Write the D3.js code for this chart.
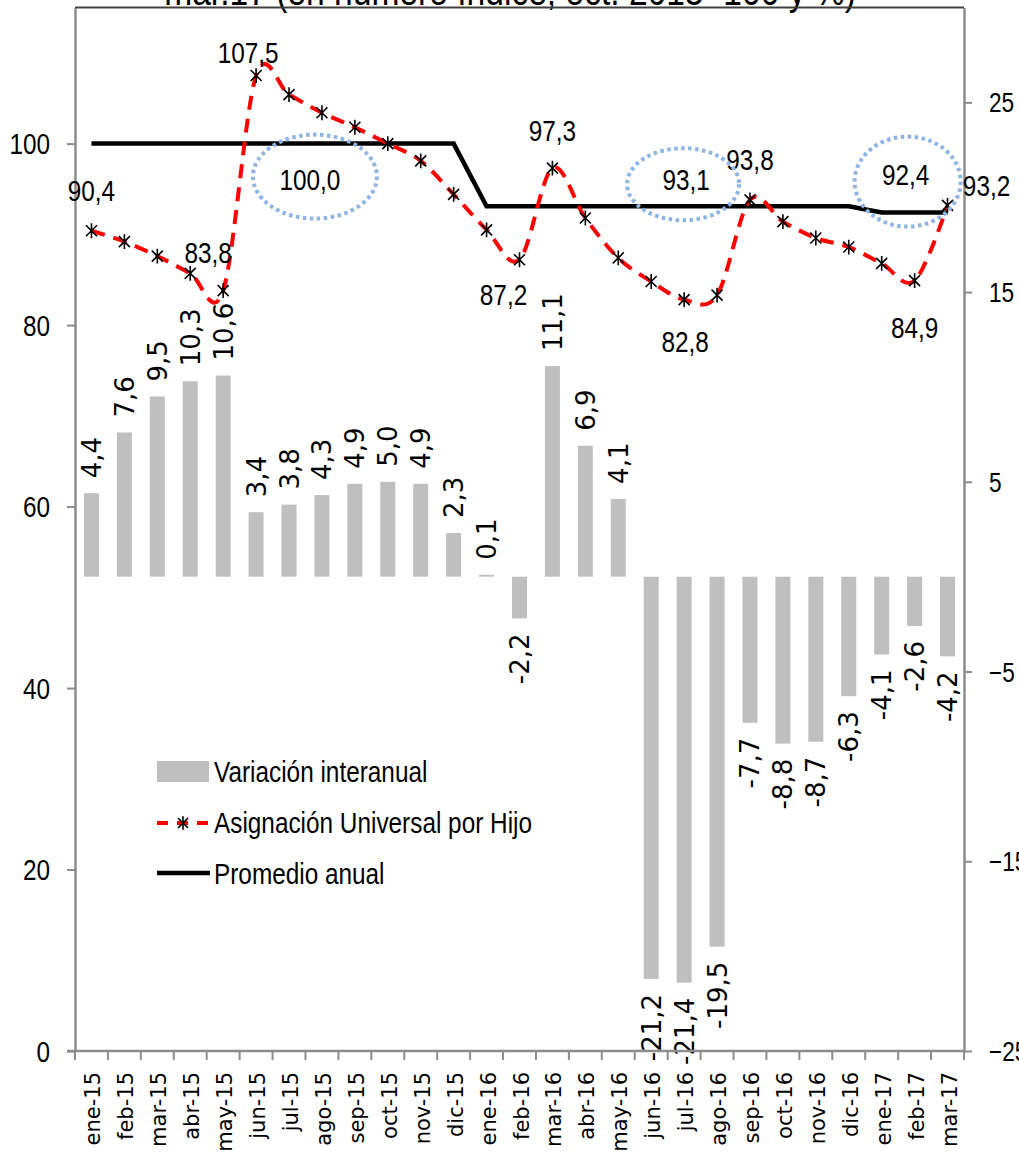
<!DOCTYPE html>
<html>
<head>
<meta charset="utf-8">
<script src="https://cdn.jsdelivr.net/npm/d3@7"></script>
<style>
  body { margin: 0; background: #fff; }
  svg { display: block; }
</style>
</head>
<body>
<svg id="chart"></svg>
<script>
// months on the x axis
var months = ["ene-15","feb-15","mar-15","abr-15","may-15","jun-15","jul-15","ago-15","sep-15","oct-15","nov-15","dic-15",
              "ene-16","feb-16","mar-16","abr-16","may-16","jun-16","jul-16","ago-16","sep-16","oct-16","nov-16","dic-16",
              "ene-17","feb-17","mar-17"];

// year on year change (%), right axis
var variacion = [4.4, 7.6, 9.5, 10.3, 10.6, 3.4, 3.8, 4.3, 4.9, 5.0, 4.9, 2.3,
                 0.1, -2.2, 11.1, 6.9, 4.1, -21.2, -21.4, -19.5, -7.7, -8.8, -8.7, -6.3,
                 -4.1, -2.6, -4.2];

// AUH index, left axis
var auh = [90.4, 89.2, 87.6, 85.7, 83.8, 107.5, 105.4, 103.4, 101.8, 100.0, 98.1, 94.4,
           90.5, 87.2, 97.3, 91.8, 87.4, 84.8, 82.8, 83.3, 93.8, 91.4, 89.6, 88.6,
           86.8, 84.9, 93.2];

// yearly average, left axis
var promedio = [100, 100, 100, 100, 100, 100, 100, 100, 100, 100, 100, 100,
                93.1, 93.1, 93.1, 93.1, 93.1, 93.1, 93.1, 93.1, 93.1, 93.1, 93.1, 93.1,
                92.4, 92.4, 92.4];

var leftTicks = [0, 20, 40, 60, 80, 100];
var rightTicks = [-25, -15, -5, 5, 15, 25];

// which AUH points get a value label
var auhLabelled = ["ene-15", "may-15", "jun-15", "feb-16", "mar-16", "jul-16", "sep-16", "feb-17", "mar-17"];
// circled yearly averages
var promedioNotes = ["ago-15", "jul-16", "feb-17"];

var legendItems = ["Variación interanual", "Asignación Universal por Hijo", "Promedio anual"];
var title = "mar.17 (en número índice; oct. 2015=100 y %)";

var width = 1019, height = 1160;
var plotLeft = 75, plotRight = 964, plotTop = 7.5, plotBottom = 1051;

var sans = "'Liberation Sans', Arial, sans-serif";
var wide = "'DejaVu Sans', Verdana, sans-serif";
var squeeze = 0.84;   // narrow the Liberation glyphs to look like the original font

var svg = d3.select("#chart").attr("width", width).attr("height", height);

var x = d3.scaleBand().domain(months).range([plotLeft, plotRight]);
var xc = function(m) { return x(m) + x.step() / 2; };
var yL = d3.scaleLinear().domain([0, 115]).range([plotBottom, plotTop]);
var yR = d3.scaleLinear().domain([-25, 30]).range([plotBottom, plotTop]);

var fmt = function(v) { return v.toFixed(1).replace(".", ","); };
var barW = 15;

// place a narrowed text at px, py
function narrowAt(sel, px, py) {
    return sel.attr("transform", function(d, i) {
        var a = typeof px === "function" ? px(d, i) : px;
        var b = typeof py === "function" ? py(d, i) : py;
        return "translate(" + a + "," + b + ") scale(" + squeeze + ",1)";
    })
    .attr("font-family", sans);
}

// title (cut at the top of the picture)
narrowAt(svg.append("text"), 510, 5)
    .attr("text-anchor", "middle")
    .attr("font-size", 40)
    .text(title);

// top border of plot area
svg.append("line")
    .attr("x1", plotLeft).attr("x2", plotRight)
    .attr("y1", plotTop).attr("y2", plotTop)
    .attr("stroke", "#404040").attr("stroke-width", 2);

// bars
svg.append("g")
    .selectAll("rect")
    .data(variacion)
    .join("rect")
    .attr("x", (d, i) => xc(months[i]) - barW / 2)
    .attr("width", barW)
    .attr("y", d => d >= 0 ? yR(d) : yR(0))
    .attr("height", d => Math.abs(yR(d) - yR(0)))
    .attr("fill", "#bfbfbf");

// bar labels, rotated
svg.append("g")
    .selectAll("text")
    .data(variacion)
    .join("text")
    .attr("transform", function(d, i) {
        var yy = d >= 0 ? yR(d) - 15 : yR(d) + 15;
        return "translate(" + (xc(months[i]) + 9.5) + "," + yy + ") rotate(-90)";
    })
    .attr("text-anchor", d => d >= 0 ? "start" : "end")
    .attr("font-family", wide).attr("font-size", 26)
    .text(d => fmt(d));

// axes
var axisColor = "#8c8c8c";

var gL = svg.append("g")
    .attr("transform", "translate(" + plotLeft + ",0)")
    .call(d3.axisLeft(yL).tickValues(leftTicks).tickSize(8).tickSizeOuter(0).tickFormat(d3.format("d")));
var gR = svg.append("g")
    .attr("transform", "translate(" + plotRight + ",0)")
    .call(d3.axisRight(yR).tickValues(rightTicks).tickSize(8).tickSizeOuter(0).tickFormat(d3.format("d")));

[gL, gR].forEach(function(g) {
    g.select(".domain").attr("stroke", axisColor).attr("stroke-width", 2.5);
    g.selectAll(".tick line").attr("stroke", axisColor).attr("stroke-width", 2);
    g.selectAll(".tick text")
        .attr("fill", "#000")
        .attr("font-family", sans)
        .attr("dy", "0.35em")
        .attr("transform", "scale(" + squeeze + ",1)");
});
gL.selectAll(".tick text").attr("x", -25 / squeeze).attr("font-size", 29);
gR.selectAll(".tick text").attr("x", 25 / squeeze).attr("font-size", 27);

// x axis line and ticks between months
svg.append("line")
    .attr("x1", plotLeft - 8).attr("x2", plotRight)
    .attr("y1", plotBottom).attr("y2", plotBottom)
    .attr("stroke", axisColor).attr("stroke-width", 2.5);

svg.append("g")
    .selectAll("line")
    .data(d3.range(months.length + 1))
    .join("line")
    .attr("x1", i => plotLeft + i * x.step())
    .attr("x2", i => plotLeft + i * x.step())
    .attr("y1", plotBottom).attr("y2", plotBottom + 9)
    .attr("stroke", axisColor).attr("stroke-width", 2);

svg.append("g")
    .selectAll("text")
    .data(months)
    .join("text")
    .attr("transform", d => "translate(" + (xc(d) + 9) + "," + (plotBottom + 21) + ") rotate(-90)")
    .attr("text-anchor", "end")
    .attr("font-family", wide).attr("font-size", 21)
    .text(d => d);

// yearly average
var lineAvg = d3.line()
    .x((d, i) => xc(months[i]))
    .y(d => yL(d));

svg.append("path")
    .datum(promedio)
    .attr("d", lineAvg)
    .attr("fill", "none")
    .attr("stroke", "#000")
    .attr("stroke-width", 4.5);

// AUH smoothed dashed line
var lineAuh = d3.line()
    .x((d, i) => xc(months[i]))
    .y(d => yL(d))
    .curve(d3.curveCardinal.tension(0));

svg.append("path")
    .datum(auh)
    .attr("d", lineAuh)
    .attr("fill", "none")
    .attr("stroke", "#ff0000")
    .attr("stroke-width", 4)
    .attr("stroke-dasharray", "14,9");

// star markers
function star(g, s) {
    g.append("path")
        .attr("d", "M" + (-s) + "," + (-s) + "L" + s + "," + s +
                   "M" + (-s) + "," + s + "L" + s + "," + (-s) +
                   "M0," + (-s * 1.35) + "L0," + (s * 1.35))
        .attr("stroke", "#000")
        .attr("stroke-width", 1.6)
        .attr("fill", "none");
}

svg.append("g")
    .selectAll("g")
    .data(auh)
    .join("g")
    .attr("transform", (d, i) => "translate(" + xc(months[i]) + "," + yL(d) + ")")
    .each(function() { star(d3.select(this), 5.5); });

// AUH value labels, nudged like the original
var labelNudge = {
    "ene-15": [0, -40], "may-15": [-15, -38], "jun-15": [-8, -23],
    "feb-16": [-16, 35], "mar-16": [0, -37], "jul-16": [1, 42],
    "sep-16": [0, -40], "feb-17": [0, 47], "mar-17": [39, -19]
};

narrowAt(svg.append("g")
    .selectAll("text")
    .data(auhLabelled)
    .join("text"),
    m => xc(m) + labelNudge[m][0],
    m => yL(auh[months.indexOf(m)]) + labelNudge[m][1])
    .attr("dy", "0.35em")
    .attr("text-anchor", "middle")
    .attr("font-size", 29)
    .text(m => fmt(auh[months.indexOf(m)]));

// circled yearly averages
var noteShape = {
    "ago-15": { dx: -7, dy: 33, rx: 62, ry: 42, tx: -12, ty: 36 },
    "jul-16": { dx: -1, dy: -22, rx: 56, ry: 36, tx: 2, ty: -26 },
    "feb-17": { dx: -7, dy: -31, rx: 53, ry: 45, tx: -9, ty: -38 }
};

var notes = svg.append("g")
    .selectAll("g")
    .data(promedioNotes)
    .join("g");

notes.append("ellipse")
    .attr("cx", m => xc(m) + noteShape[m].dx)
    .attr("cy", m => yL(promedio[months.indexOf(m)]) + noteShape[m].dy)
    .attr("rx", m => noteShape[m].rx)
    .attr("ry", m => noteShape[m].ry)
    .attr("fill", "none")
    .attr("stroke", "#8db4e2")
    .attr("stroke-width", 4)
    .attr("stroke-dasharray", "3.5,3.5");

narrowAt(notes.append("text"),
    m => xc(m) + noteShape[m].tx,
    m => yL(promedio[months.indexOf(m)]) + noteShape[m].ty)
    .attr("dy", "0.35em")
    .attr("text-anchor", "middle")
    .attr("font-size", 29)
    .text(m => fmt(promedio[months.indexOf(m)]));

// legend
var lg = svg.append("g").attr("transform", "translate(157,771)");

lg.append("rect")
    .attr("x", 0).attr("y", -10).attr("width", 52).attr("height", 21)
    .attr("fill", "#bfbfbf");

lg.append("line")
    .attr("x1", 0).attr("x2", 53).attr("y1", 52).attr("y2", 52)
    .attr("stroke", "#ff0000").attr("stroke-width", 4)
    .attr("stroke-dasharray", "11,9");
star(lg.append("g").attr("transform", "translate(26,52)"), 5);

lg.append("line")
    .attr("x1", 0).attr("x2", 53).attr("y1", 102).attr("y2", 102)
    .attr("stroke", "#000").attr("stroke-width", 4.5);

narrowAt(lg.selectAll("text")
    .data(legendItems)
    .join("text"),
    57, (d, i) => i * 51 + 11)
    .attr("font-size", 29)
    .text(d => d);
</script>
</body>
</html>
